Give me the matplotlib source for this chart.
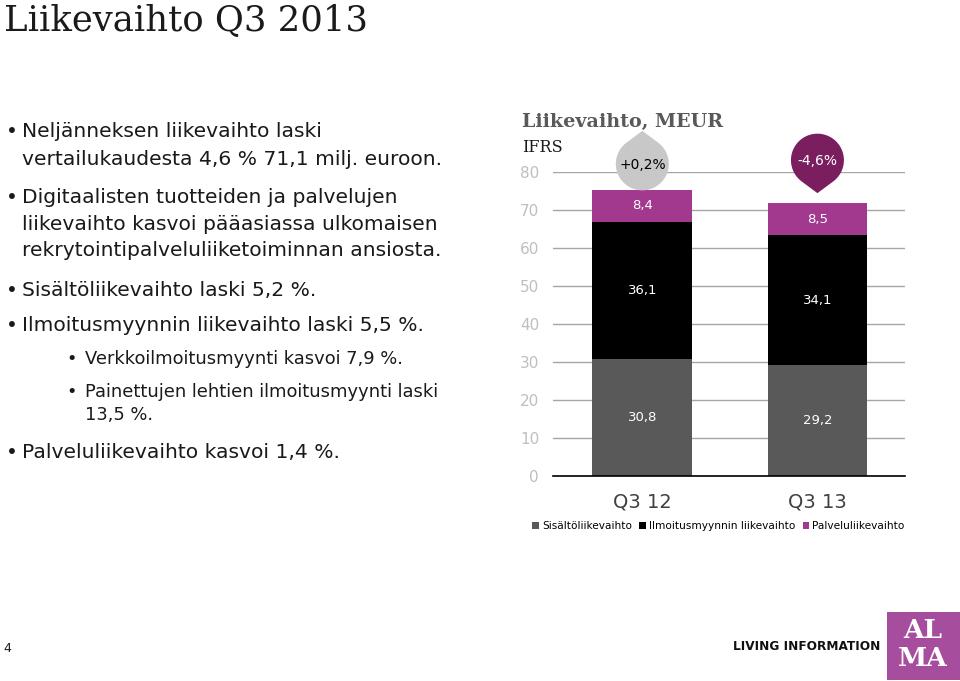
import numpy as np
import matplotlib
matplotlib.use("Agg")
import matplotlib.pyplot as plt
import matplotlib.transforms as mtransforms
from matplotlib.patches import Polygon, Rectangle

# data
quarters = ["Q3 12", "Q3 13"]
series_names = ["Sisältöliikevaihto", "Ilmoitusmyynnin liikevaihto", "Palveluliikevaihto"]
sisalto = [30.8, 29.2]
ilmoitus = [36.1, 34.1]
palvelu = [8.4, 8.5]
change_labels = ["+0,2%", "-4,6%"]
yticks = [0, 10, 20, 30, 40, 50, 60, 70, 80]

bullets = [
    ["Neljänneksen liikevaihto laski", "vertailukaudesta 4,6 % 71,1 milj. euroon."],
    ["Digitaalisten tuotteiden ja palvelujen", "liikevaihto kasvoi pääasiassa ulkomaisen",
     "rekrytointipalveluliiketoiminnan ansiosta."],
    ["Sisältöliikevaihto laski 5,2 %."],
    ["Ilmoitusmyynnin liikevaihto laski 5,5 %."],
]
sub_bullets = [
    ["Verkkoilmoitusmyynti kasvoi 7,9 %."],
    ["Painettujen lehtien ilmoitusmyynti laski", "13,5 %."],
]
last_bullet = ["Palveluliikevaihto kasvoi 1,4 %."]

colors = ["#595959", "#000000", "#A3398E"]
W, H = 960, 681


def px(x, y):
    return x / W, 1 - y / H


fig = plt.figure(figsize=(9.6, 6.81), dpi=100)

# slide title
fig.text(*px(4, 31), "Liikevaihto Q3 2013", fontsize=25.5, family="DejaVu Serif",
         va="baseline", ha="left", color="#1a1a1a")

# bullet text, one line at a time (baselines in pixels)
txt_kw = dict(fontsize=14.6, family="DejaVu Sans", color="#1a1a1a", va="baseline", ha="left")
sub_kw = dict(txt_kw, fontsize=12.9)


def bullet(lines, y0, step, xb, xt, kw):
    fig.text(*px(xb, y0), "•", **kw)
    for i, line in enumerate(lines):
        fig.text(*px(xt, y0 + i * step), line, **kw)


for lines, y, step in zip(bullets, [137, 203, 296, 331], [28, 26.5, 26.5, 26.5]):
    bullet(lines, y, step, 6, 22, txt_kw)
for lines, y in zip(sub_bullets, [364, 397]):
    bullet(lines, y, 23.5, 66, 85, sub_kw)
bullet(last_bullet, 458, 26.5, 6, 22, txt_kw)

# chart
l, r, b, t = 553, 905, 476, 172
ax = fig.add_axes([l / W, 1 - b / H, (r - l) / W, (b - t) / H])
x = np.arange(len(quarters))
width = 0.57
bottom = np.zeros(len(quarters))
for vals, c, name in zip([sisalto, ilmoitus, palvelu], colors, series_names):
    ax.bar(x, vals, width, bottom=bottom, color=c, label=name, zorder=3)
    for xi, v, bo in zip(x, vals, bottom):
        ax.text(xi, bo + v / 2, f"{v:.1f}".replace(".", ","), ha="center", va="center",
                color="white", fontsize=9.5, zorder=4)
    bottom = bottom + np.array(vals)

ax.set_xlim(-0.51, 1.50)
ax.set_ylim(0, 80)
ax.set_yticks(yticks)
ax.yaxis.grid(True, color="#A6A6A6", linewidth=1.0, zorder=0)
ax.set_axisbelow(True)
for s in ["left", "right", "top"]:
    ax.spines[s].set_visible(False)
ax.spines["bottom"].set_color("black")
ax.spines["bottom"].set_linewidth(1.2)
ax.spines["bottom"].set_zorder(5)
ax.tick_params(axis="y", length=0, pad=10, labelcolor="#BFBFBF", labelsize=11)
ax.tick_params(axis="x", length=0, pad=12, labelcolor="#404040", labelsize=14)
ax.set_xticks(x)
ax.set_xticklabels(quarters)

# change markers (drops) anchored at bar totals
drop_colors = ["#C8C8C8", "#7A1E60"]
text_colors = ["black", "white"]
tip_up = [True, False]
center_off = [26, 43]   # pixels above bar total
rad = 26.5
for xi, tot, lab, dc, tc, up, off in zip(x, bottom, change_labels, drop_colors,
                                         text_colors, tip_up, center_off):
    trans = fig.dpi_scale_trans + mtransforms.ScaledTranslation(xi, tot, ax.transData)
    d = 33.0
    theta = np.pi / 2 if up else -np.pi / 2
    alpha = np.arccos(rad / d)
    ang = np.linspace(theta + alpha, theta + 2 * np.pi - alpha, 60)
    pts = np.column_stack([rad * np.cos(ang), off + rad * np.sin(ang)])
    tip = np.array([[d * np.cos(theta), off + d * np.sin(theta)]])
    pts = np.vstack([pts, tip]) / 100.0
    poly = Polygon(pts, closed=True, transform=trans, facecolor=dc, edgecolor="none",
                   clip_on=False, zorder=6)
    ax.add_patch(poly)
    ax.annotate(lab, xy=(xi, tot), xytext=(0, (off - 1) * 0.72), textcoords="offset points",
                ha="center", va="center", color=tc, fontsize=10, zorder=7,
                annotation_clip=False)

ax.legend(loc="center", bbox_to_anchor=(0.47, -0.165), ncol=3, frameon=False,
          fontsize=7.6, handlelength=0.6, handleheight=0.6, handletextpad=0.3,
          columnspacing=0.7, borderaxespad=0)

# chart titles
fig.text(*px(522, 127), "Liikevaihto, MEUR", fontsize=13.8, family="DejaVu Serif",
         weight="bold", color="#595959", va="baseline", ha="left")
fig.text(*px(522, 152), "IFRS", fontsize=11.5, family="DejaVu Serif",
         color="#1a1a1a", va="baseline", ha="left")

# footer
fig.text(*px(3, 648), "4", fontsize=9, color="#1a1a1a", va="center", ha="left")
fig.text(*px(880, 647), "LIVING INFORMATION", fontsize=8.7, weight="bold",
         color="#111111", va="center", ha="right")
fig.patches.append(Rectangle(px(887, 680), 73 / W, 68 / H, transform=fig.transFigure,
                             facecolor="#A64D9D", edgecolor="none"))
fig.text(*px(923, 631), "AL", fontsize=19, family="DejaVu Serif", weight="bold",
         color="white", va="center", ha="center")
fig.text(*px(923, 659), "MA", fontsize=19, family="DejaVu Serif", weight="bold",
         color="white", va="center", ha="center")

fig.savefig("out.png", dpi=100)
